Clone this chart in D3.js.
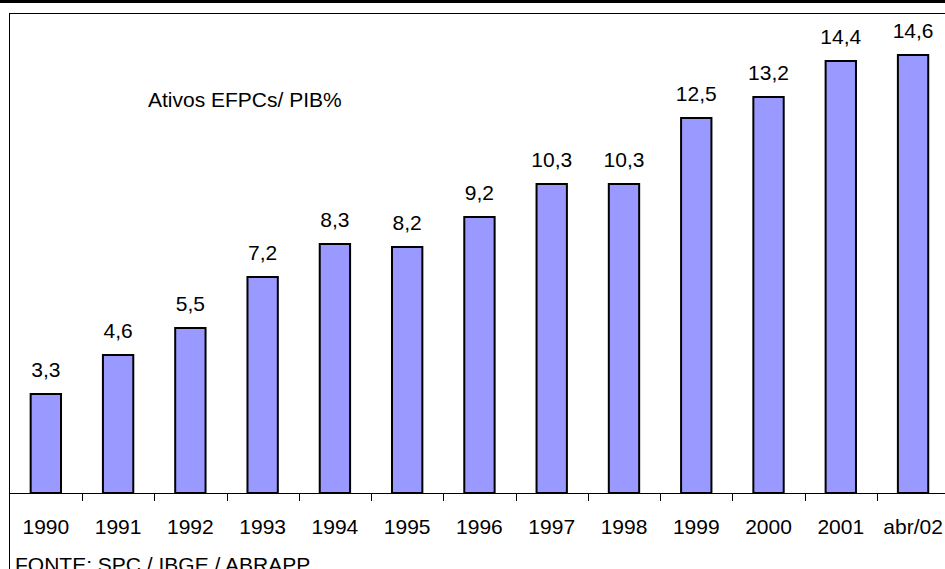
<!DOCTYPE html>
<html>
<head>
<meta charset="utf-8">
<script src="https://cdn.jsdelivr.net/npm/d3@7/dist/d3.min.js"></script>
<style>
  html, body { margin: 0; padding: 0; background: #fff; }
  svg { display: block; }
  text { font-family: Arial, "Liberation Sans", sans-serif; fill: #000; }
</style>
</head>
<body>
<svg id="chart" width="945" height="569"></svg>
<script>
// Ativos das EFPCs como % do PIB
const categories = ["1990", "1991", "1992", "1993", "1994", "1995", "1996",
                    "1997", "1998", "1999", "2000", "2001", "abr/02"];
const values = [3.3, 4.6, 5.5, 7.2, 8.3, 8.2, 9.2, 10.3, 10.3, 12.5, 13.2, 14.4, 14.6];
const valueLabels = ["3,3", "4,6", "5,5", "7,2", "8,3", "8,2", "9,2",
                     "10,3", "10,3", "12,5", "13,2", "14,4", "14,6"];
const yDomain = [0, 16];
const title = "Ativos EFPCs/ PIB%";
const source = "FONTE: SPC / IBGE / ABRAPP";

const svg = d3.select("#chart");
const fontSize = 21;

// plot frame
const plot = { left: 9.7, top: 13, right: 949.2, bottom: 493 };

const x = d3.scaleBand()
  .domain(categories)
  .range([plot.left, plot.right])
  .paddingInner(0)
  .paddingOuter(0);

const y = d3.scaleLinear()
  .domain(yDomain)
  .range([plot.bottom, plot.top]);

const barFrac = 0.42;
const barW = x.bandwidth() * barFrac;
const barX = d => x(d) + (x.bandwidth() - barW) / 2;

// thick rule along the top of the page
svg.append("line")
  .attr("x1", 0).attr("x2", 945)
  .attr("y1", 1.5).attr("y2", 1.5)
  .attr("stroke", "#000").attr("stroke-width", 3);

// plot area border (runs off the right and bottom edges)
svg.append("rect")
  .attr("x", 9.5).attr("y", 13.5)
  .attr("width", 960).attr("height", 600)
  .attr("fill", "none")
  .attr("stroke", "#000").attr("stroke-width", 1);

// bars
svg.append("g").selectAll("rect")
  .data(categories)
  .join("rect")
  .attr("x", d => barX(d))
  .attr("width", barW)
  .attr("y", (d, i) => y(values[i]))
  .attr("height", (d, i) => y(0) - y(values[i]))
  .attr("fill", "#9999FF")
  .attr("stroke", "#000")
  .attr("stroke-width", 2);

// value labels
svg.append("g").selectAll("text")
  .data(categories)
  .join("text")
  .attr("x", d => x(d) + x.bandwidth() / 2)
  .attr("y", (d, i) => y(values[i]) - 17)
  .attr("text-anchor", "middle")
  .attr("font-size", fontSize)
  .text((d, i) => valueLabels[i]);

// category axis: baseline, boundary ticks, labels
const axis = svg.append("g");
axis.append("line")
  .attr("x1", plot.left).attr("x2", 945)
  .attr("y1", y(0) + 0.5).attr("y2", y(0) + 0.5)
  .attr("stroke", "#000").attr("stroke-width", 1);

axis.selectAll("line.tick")
  .data(categories.slice(1))
  .join("line")
  .attr("class", "tick")
  .attr("x1", d => Math.round(x(d)) + 0.5)
  .attr("x2", d => Math.round(x(d)) + 0.5)
  .attr("y1", y(0))
  .attr("y2", y(0) + 8)
  .attr("stroke", "#000").attr("stroke-width", 1);

axis.selectAll("text")
  .data(categories)
  .join("text")
  .attr("x", d => x(d) + x.bandwidth() / 2)
  .attr("y", 534)
  .attr("text-anchor", "middle")
  .attr("font-size", fontSize)
  .text(d => d);

// series title inside the plot
svg.append("text")
  .attr("x", 148)
  .attr("y", 107)
  .attr("font-size", fontSize)
  .text(title);

// source note, partly below the page edge
svg.append("text")
  .attr("x", 15)
  .attr("y", 572)
  .attr("font-size", fontSize)
  .text(source);
</script>
</body>
</html>
